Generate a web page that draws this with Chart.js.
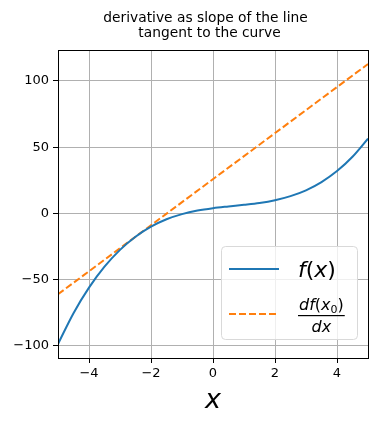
<!DOCTYPE html>
<html lang="en">
<head>
  <meta charset="UTF-8">
  <title>derivative as slope of the line tangent to the curve</title>
  <script src="https://cdn.jsdelivr.net/npm/chart.js"></script>
  <style>
    body { margin: 0; background: white; }
    #wrap { width: 377px; height: 425px; }
  </style>
</head>
<body>
<div id="wrap"><canvas id="grafica" width="377" height="425"></canvas></div>
<script>
// values
const xVals = [-5, -4.5, -4, -3.5, -3, -2.5, -2, -1.5, -1, -0.5, 0, 0.5, 1, 1.5, 2, 2.5, 3, 3.5, 4, 4.5, 5];
const fVals = [-98.5, -75.3, -56, -40.2, -27.5, -17.6, -10, -4.4, -0.5, 2.2, 4, 5.3, 6.5, 7.9, 10, 13.1, 17.5, 23.7, 32, 42.8, 56.5];
const tanX = [-5, 5];
const tanY = [-61, 112.8];
const xTicks = [-4, -2, 0, 2, 4];
const yTicks = [-100, -50, 0, 50, 100];
const titulo = ["derivative as slope of the line", "tangent to the curve"];

const azul = "#1f77b4", naranja = "#ff7f0e";
const fuente = "'DejaVu Sans', sans-serif";

// title, two lines, over the plot area
const cabecera = {
  id: "cabecera",
  afterDraw(chart) {
    const { ctx } = chart;
    ctx.save();
    ctx.fillStyle = "black";
    ctx.font = "13.8px " + fuente;
    ctx.textAlign = "center";
    ctx.textBaseline = "alphabetic";
    ctx.fillText(titulo[0], 205.5, 21.5);
    ctx.fillText(titulo[1], 209.5, 37);
    ctx.restore();
  }
};

// black frame round the plot area
const marco = {
  id: "marco",
  afterDatasetsDraw(chart) {
    const { ctx, chartArea: a } = chart;
    ctx.save();
    ctx.strokeStyle = "black";
    ctx.lineWidth = 1;
    ctx.strokeRect(Math.round(a.left) + 0.5, Math.round(a.top) + 0.5, Math.round(a.width), Math.round(a.height));
    ctx.restore();
  }
};

// draws text pieces one after another: [text, italic, size, dy]
function piezas(ctx, x, y, lista) {
  for (const [t, it, sz, dy] of lista) {
    ctx.font = (it ? "italic " : "") + sz + "px " + fuente;
    ctx.fillText(t, x, y + dy);
    x += ctx.measureText(t).width;
  }
  return x;
}
function ancho(ctx, lista) {
  let w = 0;
  for (const [t, it, sz] of lista) {
    ctx.font = (it ? "italic " : "") + sz + "px " + fuente;
    w += ctx.measureText(t).width;
  }
  return w;
}

const leyenda = {
  id: "leyenda",
  afterDraw(chart) {
    const { ctx, chartArea: a } = chart;
    const x0 = a.right - 147, y0 = a.bottom - 112, w = 136, h = 93;
    ctx.save();
    ctx.beginPath();
    ctx.roundRect(x0 + 0.5, y0 + 0.5, w, h, 4);
    ctx.fillStyle = "rgba(255,255,255,0.8)";
    ctx.fill();
    ctx.strokeStyle = "#d9d9d9";
    ctx.lineWidth = 1;
    ctx.stroke();

    // handles
    ctx.lineWidth = 2;
    ctx.strokeStyle = azul;
    ctx.beginPath(); ctx.moveTo(x0 + 8, y0 + 23); ctx.lineTo(x0 + 58, y0 + 23); ctx.stroke();
    ctx.strokeStyle = naranja;
    ctx.setLineDash([7, 3]);
    ctx.beginPath(); ctx.moveTo(x0 + 8, y0 + 68); ctx.lineTo(x0 + 58, y0 + 68); ctx.stroke();
    ctx.setLineDash([]);

    // labels
    ctx.fillStyle = "black";
    ctx.textBaseline = "alphabetic";
    ctx.textAlign = "left";
    const tx = x0 + 77;
    piezas(ctx, tx, y0 + 31, [["f", true, 22, 0], ["(", false, 22, 0], ["x", true, 22, 0], [")", false, 22, 0]]);

    const num = [["df", true, 16, 0], ["(", false, 16, 0], ["x", true, 16, 0], ["0", false, 11, 3], [")", false, 16, 0]];
    const den = [["dx", true, 16, 0]];
    const wn = ancho(ctx, num), wd = ancho(ctx, den);
    const wf = Math.max(wn, wd) + 2;
    piezas(ctx, tx + (wf - wn) / 2, y0 + 64, num);
    ctx.fillRect(tx, y0 + 69, wf, 1.2);
    piezas(ctx, tx + (wf - wd) / 2, y0 + 86, den);
    ctx.restore();
  }
};

new Chart(document.getElementById("grafica"), {
  type: "scatter",
  data: {
    datasets: [
      { label: "f(x)", data: xVals.map((x, i) => ({ x: x, y: fVals[i] })), showLine: true,
        borderColor: azul, borderWidth: 2, pointRadius: 0, cubicInterpolationMode: "monotone" },
      { label: "df(x0)/dx", data: tanX.map((x, i) => ({ x: x, y: tanY[i] })), showLine: true,
        borderColor: naranja, borderWidth: 2, borderDash: [7, 3], pointRadius: 0 }
    ]
  },
  options: {
    responsive: false,
    animation: false,
    layout: { padding: { left: 0, right: 9, top: 50, bottom: 0 } },
    plugins: {
      legend: { display: false },
      tooltip: { enabled: false },
      title: { display: false }
    },
    scales: {
      x: {
        type: "linear", min: -5, max: 5,
        afterBuildTicks: s => { s.ticks = xTicks.map(v => ({ value: v })); },
        afterFit: s => { s.height = 67; },
        grid: { color: "#b0b0b0", tickColor: "black", tickLength: 5, drawTicks: true },
        border: { display: false },
        ticks: { color: "black", padding: 3, font: { family: fuente, size: 13 },
          callback: v => String(v).replace("-", "\u2212") },
        title: { display: true, text: "x", color: "black",
          font: { family: fuente, size: 27, style: "italic", lineHeight: 1.2 }, padding: { top: 0, bottom: 8 } }
      },
      y: {
        min: -109.1, max: 123.4,
        afterBuildTicks: s => { s.ticks = yTicks.map(v => ({ value: v })); },
        afterFit: s => { s.width = 58; },
        grid: { color: "#b0b0b0", tickColor: "black", tickLength: 5 },
        border: { display: false },
        ticks: { color: "black", padding: 4, font: { family: fuente, size: 13 },
          callback: v => String(v).replace("-", "\u2212") }
      }
    }
  },
  plugins: [cabecera, marco, leyenda]
});
</script>
</body>
</html>
